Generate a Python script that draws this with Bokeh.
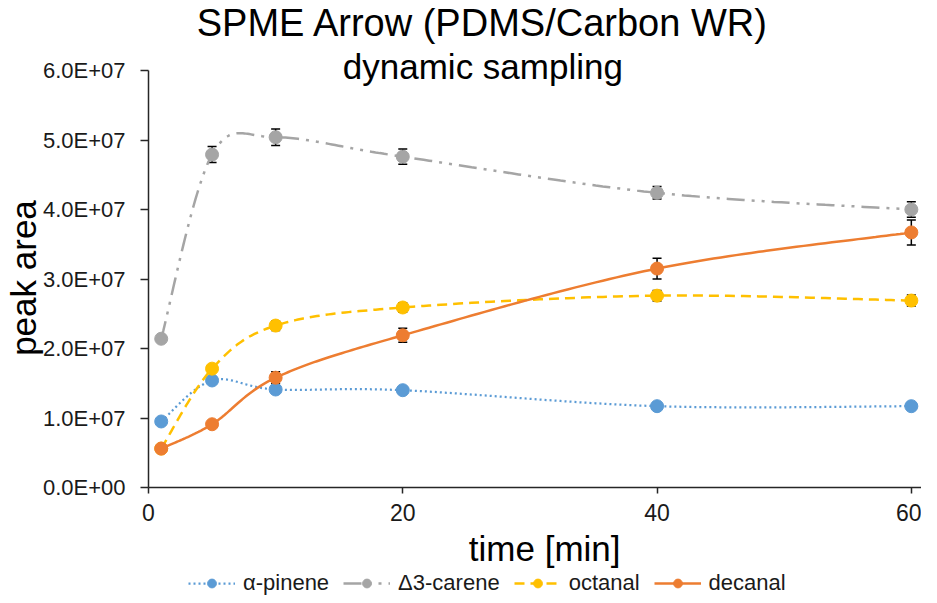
import numpy as np
from bokeh.plotting import figure
from bokeh.layouts import column
from bokeh.models import (ColumnDataSource, Whisker, TeeHead, Legend, LegendItem,
                          Label, FixedTicker, Range1d)
from bokeh.embed import file_html
from bokeh.resources import INLINE

# ---------------- data ----------------
time_min = [1, 5, 10, 20, 40, 60]

alpha_pinene = [9.5e6, 1.54e7, 1.41e7, 1.40e7, 1.17e7, 1.17e7]
alpha_pinene_err = [3e5, 4e5, 3e5, 3e5, 2e5, 2e5]

carene = [2.14e7, 4.79e7, 5.04e7, 4.76e7, 4.24e7, 4.00e7]
carene_err = [3e5, 1.15e6, 1.2e6, 1.1e6, 0.9e6, 1.1e6]

octanal = [5.6e6, 1.71e7, 2.33e7, 2.59e7, 2.76e7, 2.69e7]
octanal_err = [2e5, 3e5, 7e5, 7e5, 7.5e5, 8e5]

decanal = [5.6e6, 9.1e6, 1.58e7, 2.19e7, 3.15e7, 3.67e7]
decanal_err = [2e5, 3e5, 8.5e5, 1.0e6, 1.5e6, 1.8e6]

series_names = ["α-pinene", "Δ3-carene", "octanal", "decanal"]
x_ticks = [0, 20, 40, 60]
y_ticks = [0, 10000000, 20000000, 30000000, 40000000, 50000000, 60000000]
y_tick_labels = ["0.0E+00", "1.0E+07", "2.0E+07", "3.0E+07", "4.0E+07", "5.0E+07", "6.0E+07"]

title_text = "SPME Arrow (PDMS/Carbon WR)"
subtitle_text = "dynamic sampling"


def smooth_curve(xs, ys, n=40):
    """Excel-style smoothed line (Catmull-Rom Bezier) through the data points."""
    P = np.column_stack([xs, ys]).astype(float)
    ext = np.vstack([P[0], P, P[-1]])
    out = []
    t = np.linspace(0, 1, n)[:, None]
    for i in range(len(P) - 1):
        p0, p1 = P[i], P[i + 1]
        c1 = p0 + (ext[i + 2] - ext[i]) / 6.0
        c2 = p1 - (ext[i + 3] - ext[i + 1]) / 6.0
        seg = (1 - t) ** 3 * p0 + 3 * (1 - t) ** 2 * t * c1 + 3 * (1 - t) * t ** 2 * c2 + t ** 3 * p1
        out.append(seg if i == 0 else seg[1:])
    arr = np.vstack(out)
    return arr[:, 0], arr[:, 1]


FONT = "Liberation Sans"
TXT = "#1a1a1a"
NB = "\u00a0"

# the frame spans from the very top of the figure so the titles can live inside it;
# the y axis line is bounded to the tick range.
Y_TOP = y_ticks[-1] * 487.0 / 417.0

p = figure(width=921, height=570, output_backend="svg", toolbar_location=None,
           x_range=Range1d(0, 60.8), y_range=Range1d(0, Y_TOP),
           min_border_left=140, min_border_right=0, min_border_top=0, min_border_bottom=83)
p.outline_line_color = None
p.grid.visible = False
p.background_fill_color = "white"
p.border_fill_color = "white"

styles = [
    dict(color="#5B9BD5", dash="2 3", width=2.25),
    dict(color="#A5A5A5", dash="18 7 3 7 3 7", width=2.5),
    dict(color="#FFC000", dash="10 6", width=2.5),
    dict(color="#ED7D31", dash="solid", width=2.5),
]
all_y = [alpha_pinene, carene, octanal, decanal]
all_err = [alpha_pinene_err, carene_err, octanal_err, decanal_err]

sources = []
for name, ys, errs, st in zip(series_names, all_y, all_err, styles):
    sx, sy = smooth_curve(time_min, ys)
    p.line(sx, sy, line_color=st["color"], line_width=st["width"], line_dash=st["dash"])
    src = ColumnDataSource(dict(x=time_min, y=ys,
                                upper=[a + b for a, b in zip(ys, errs)],
                                lower=[a - b for a, b in zip(ys, errs)]))
    p.scatter("x", "y", source=src, size=13, marker="circle",
              fill_color=st["color"], line_color=st["color"])
    sources.append(src)

for src in sources:
    w = Whisker(base="x", upper="upper", lower="lower", source=src,
                line_color="black", line_width=1.5,
                upper_head=TeeHead(size=9, line_color="black", line_width=1.5),
                lower_head=TeeHead(size=9, line_color="black", line_width=1.5))
    p.add_layout(w)

# axes
p.xaxis.ticker = FixedTicker(ticks=x_ticks)
p.yaxis.ticker = FixedTicker(ticks=y_ticks)
p.yaxis.bounds = (y_ticks[0], y_ticks[-1])
p.yaxis.major_label_overrides = {t: l for t, l in zip(y_ticks, y_tick_labels)}
for ax in (p.xaxis, p.yaxis):
    ax.axis_line_color = "#262626"
    ax.axis_line_width = 1.5
    ax.major_tick_line_color = "#262626"
    ax.major_tick_line_width = 1.5
    ax.minor_tick_line_color = None
    ax.major_tick_in = 0
    ax.major_tick_out = 6
    ax.major_label_text_font = FONT
    ax.major_label_text_font_size = "23px"
    ax.major_label_text_color = TXT
    ax.axis_label_text_font = FONT
    ax.axis_label_text_font_size = "35px"
    ax.axis_label_text_font_style = "normal"
    ax.axis_label_text_color = "black"
p.yaxis.major_label_text_font_size = "22px"
p.yaxis.major_tick_out = 8

# non-breaking spaces nudge the centred axis titles to where the reference has them
p.xaxis.axis_label = NB * 2 + "time [min]"
p.yaxis.axis_label = "peak area" + NB * 7
p.xaxis.major_label_standoff = 10
p.xaxis.axis_label_standoff = 5
p.yaxis.major_label_standoff = 15
p.yaxis.axis_label_standoff = -3

p.add_layout(Label(x=26.3, y=6.69e7, text=title_text, text_align="center",
                   text_baseline="middle", text_font=FONT, text_font_size="38px",
                   text_color="black"))
p.add_layout(Label(x=26.3, y=6.057e7, text=subtitle_text, text_align="center",
                   text_baseline="middle", text_font=FONT, text_font_size="35px",
                   text_color="black"))

# ---------------- legend strip ----------------
pl = figure(width=921, height=26, output_backend="svg", toolbar_location=None,
            x_range=Range1d(0, 1), y_range=Range1d(0, 1),
            x_axis_type=None, y_axis_type=None,
            min_border_left=0, min_border_right=0, min_border_top=0, min_border_bottom=0)
pl.outline_line_color = None
pl.grid.visible = False
leg_items = []
for name, ys, st in zip(series_names, all_y, styles):
    # proxies carry the real data, which lies outside this strip's ranges (not visible)
    lr = pl.line(x=time_min, y=ys, line_color=st["color"], line_width=st["width"],
                 line_dash=st["dash"])
    mr = pl.scatter(x=time_min, y=ys, size=11, marker="circle",
                    fill_color=st["color"], line_color=st["color"])
    leg_items.append(LegendItem(label=name, renderers=[lr, mr]))
legend = Legend(items=leg_items, orientation="horizontal", location=(40, 0),
                label_text_font=FONT, label_text_font_size="22px", label_text_color=TXT,
                glyph_width=47, glyph_height=22, label_standoff=8, spacing=14,
                padding=0, margin=0, border_line_color=None, background_fill_alpha=0)
pl.add_layout(legend)

layout = column(p, pl, spacing=0)
open("out.html", "w").write(file_html(layout, INLINE))
